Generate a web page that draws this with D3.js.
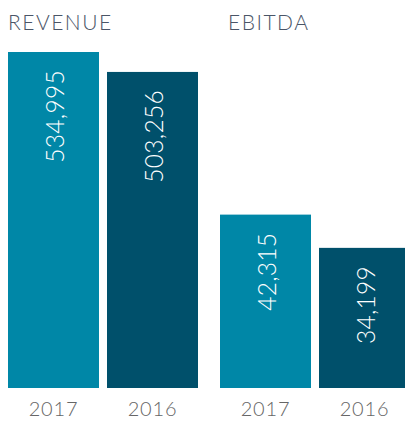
<!DOCTYPE html>
<html>
<head>
<meta charset="utf-8">
<script src="https://cdn.jsdelivr.net/npm/d3@7"></script>
<style>
  html, body { margin: 0; padding: 0; background: #fff; overflow: hidden; }
  svg { display: block; }
</style>
</head>
<body>
<svg id="chart" width="405" height="421"></svg>
<script>
const groups = ["REVENUE", "EBITDA"];
const years = ["2017", "2016"];
const revenueValues = [534995, 503256];
const ebitdaValues = [42315, 34199];
const groupMax = [535000, 82000];

const colors = { "2017": "#0087a7", "2016": "#00506b" };

const svg = d3.select("#chart");
const baseY = 388, topY = 52;
const font = "Lato, 'Open Sans', sans-serif";

const groupScale = d3.scaleBand().domain(groups).range([8, 8 + 2 * 212]).paddingInner(0);
const seriesByGroup = [revenueValues, ebitdaValues];

groups.forEach((g, gi) => {
  const x0 = groupScale(g);
  const x = d3.scaleBand().domain(years).range([x0, x0 + 190]).paddingInner(8 / 99).paddingOuter(0);
  const y = d3.scaleLinear().domain([0, groupMax[gi]]).range([baseY, topY]);
  const vals = seriesByGroup[gi];
  const data = years.map((yr, i) => ({ yr, v: vals[i] }));
  const gEl = svg.append("g");

  // title
  gEl.append("text")
    .attr("x", x0 + (gi === 0 ? 0 : 8))
    .attr("y", 30)
    .attr("fill", "#4a5567")
    .attr("font-family", font)
    .attr("font-weight", 300)
    .attr("font-size", 21)
    .attr("letter-spacing", 1.5)
    .text(g);

  gEl.selectAll("rect").data(data).join("rect")
    .attr("x", d => x(d.yr))
    .attr("width", x.bandwidth())
    .attr("y", d => y(d.v))
    .attr("height", d => baseY - y(d.v))
    .attr("fill", d => colors[d.yr]);

  gEl.selectAll("text.val").data(data).join("text")
    .attr("class", "val")
    .attr("transform", d => `translate(${x(d.yr) + x.bandwidth() / 2 + 1},${y(d.v) + 18}) rotate(-90)`)
    .attr("text-anchor", "end")
    .attr("dy", "0.37em")
    .attr("fill", "#ffffff")
    .attr("font-family", font)
    .attr("font-weight", 300)
    .attr("font-size", 24.5)
    .attr("letter-spacing", 0.3)
    .text(d => d3.format(",")(d.v));

  const axis = d3.axisBottom(x).tickSize(0).tickPadding(0);
  const ax = gEl.append("g").attr("transform", `translate(0,${baseY})`).call(axis);
  ax.select(".domain").remove();
  ax.selectAll("text")
    .attr("y", 28)
    .attr("dy", 0)
    .attr("fill", "#666666")
    .attr("font-family", font)
    .attr("font-weight", 300)
    .attr("font-size", 20)
    .attr("letter-spacing", 0.8);
});
</script>
</body>
</html>
